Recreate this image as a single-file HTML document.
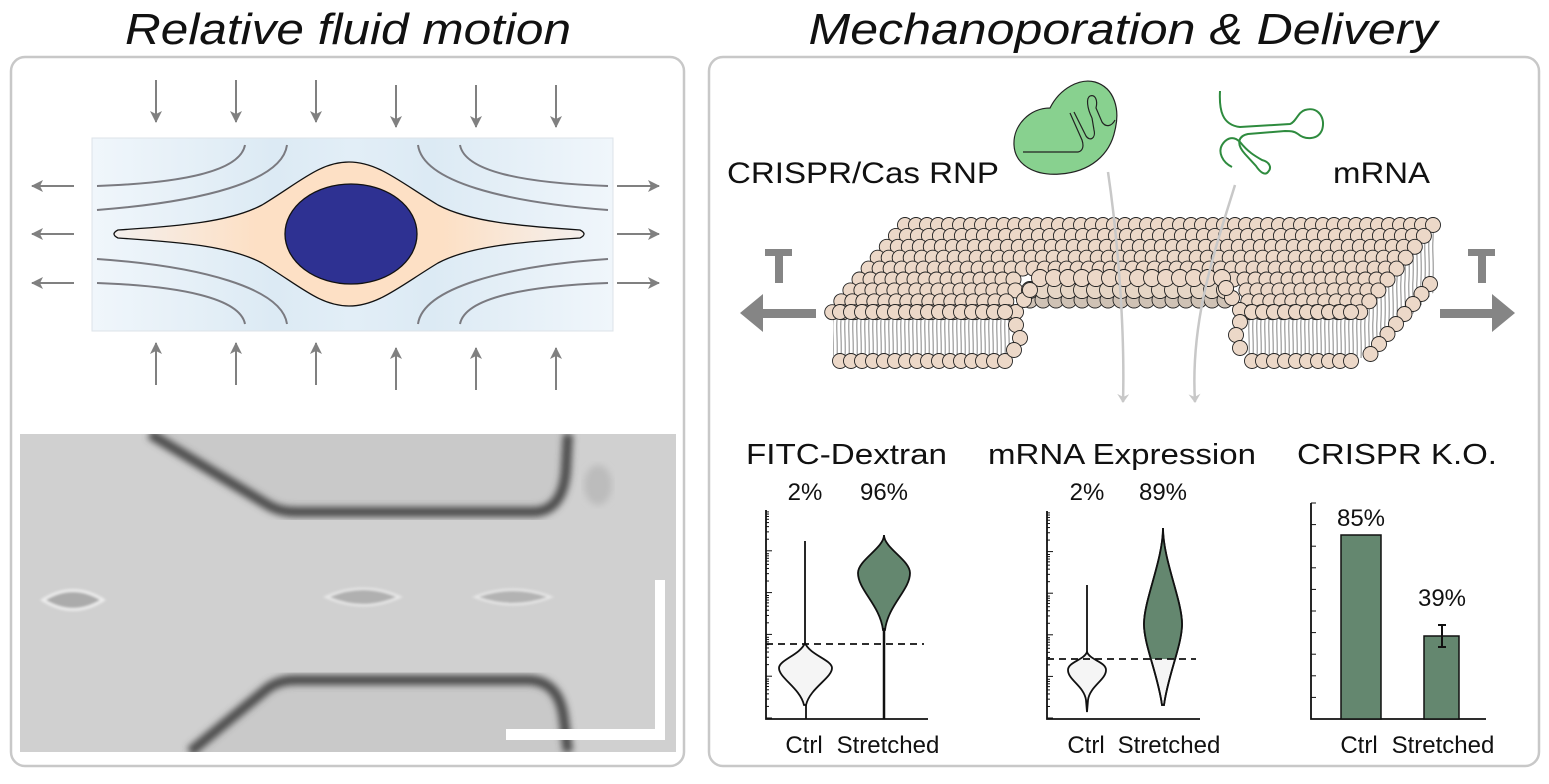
<!DOCTYPE html>
<html><head><meta charset="utf-8">
<style>
html,body{margin:0;padding:0;background:#fff;}
svg{display:block;}
text{font-family:"Liberation Sans",Arial,sans-serif;fill:#111;}
</style></head>
<body>
<svg id="s" width="1549" height="784" viewBox="0 0 1549 784" xmlns="http://www.w3.org/2000/svg">
<defs>
  <linearGradient id="bg" x1="0" x2="1" y1="0" y2="0">
    <stop offset="0" stop-color="#f0f6fb"/>
    <stop offset="0.35" stop-color="#dceaf4"/>
    <stop offset="0.5" stop-color="#e2eef7"/>
    <stop offset="0.65" stop-color="#dceaf4"/>
    <stop offset="1" stop-color="#f0f6fb"/>
  </linearGradient>
  <linearGradient id="cell" x1="0" x2="1" y1="0" y2="0">
    <stop offset="0" stop-color="#f4efec"/>
    <stop offset="0.3" stop-color="#fde0c5"/>
    <stop offset="0.7" stop-color="#fde0c5"/>
    <stop offset="1" stop-color="#f4efec"/>
  </linearGradient>
  <filter id="blur"><feGaussianBlur stdDeviation="3.5"/></filter>
  <filter id="blur2"><feGaussianBlur stdDeviation="1.2"/></filter>
  <pattern id="tails" width="4" height="40" patternUnits="userSpaceOnUse">
    <rect width="4" height="40" fill="#fff"/>
    <path d="M1,0 C0.5,10 1.5,20 1,40" stroke="#333" stroke-width="0.6" fill="none"/>
  </pattern>
  <marker id="ah" markerWidth="12" markerHeight="12" refX="11" refY="6" orient="auto" markerUnits="userSpaceOnUse">
    <path d="M0,0 L12,6 L0,12 L3,6 Z" fill="#808080"/>
  </marker>
  <marker id="ahl" markerWidth="10" markerHeight="12" refX="8" refY="6" orient="auto" markerUnits="userSpaceOnUse">
    <path d="M0,0 L9,6 L0,12 L3,6 Z" fill="#c8c8c8"/>
  </marker>
</defs>

<text x="348" y="44" font-size="44" font-style="italic" text-anchor="middle" textLength="446" lengthAdjust="spacingAndGlyphs">Relative fluid motion</text>
<text x="1123" y="44" font-size="44" font-style="italic" text-anchor="middle" textLength="629" lengthAdjust="spacingAndGlyphs">Mechanoporation &amp; Delivery</text>

<rect x="11" y="57" width="673" height="709" rx="14" fill="none" stroke="#c8c8c8" stroke-width="2.5"/>
<rect x="709" y="57" width="830" height="709" rx="14" fill="none" stroke="#c8c8c8" stroke-width="2.5"/>

<rect x="92" y="138" width="521" height="193" fill="url(#bg)" stroke="#dde3e8" stroke-width="1"/>
<g stroke="#7a7a80" stroke-width="2" fill="none">
  <path d="M97,186 C180,183 240,172 245,145"/>
  <path d="M97,210 C200,202 282,182 287,145"/>
  <path d="M97,259 C200,266 282,288 287,324"/>
  <path d="M97,283 C180,286 240,298 245,324"/>
  <path d="M608,186 C525,183 465,172 460,145"/>
  <path d="M608,210 C505,202 423,182 418,145"/>
  <path d="M608,259 C505,266 423,288 418,324"/>
  <path d="M608,283 C525,286 465,298 460,324"/>
</g>
<path d="M118,230 C180,226 230,222 262,205 C300,182 320,162 349,162 C378,162 400,182 438,205 C470,222 520,226 580,230 Q588,234 580,238 C520,242 470,246 438,263 C400,286 378,306 349,306 C320,306 300,286 262,263 C230,246 180,242 118,238 Q110,234 118,230 Z" fill="url(#cell)" stroke="#111" stroke-width="1.3"/>
<ellipse cx="351" cy="234" rx="66" ry="50" fill="#2e3192" stroke="#111" stroke-width="1.3"/>
<g stroke="#808080" stroke-width="2" fill="none" marker-end="url(#ah)">
  <line x1="156" y1="80" x2="156" y2="122"/><line x1="236" y1="80" x2="236" y2="122"/><line x1="316" y1="80" x2="316" y2="122"/>
  <line x1="396" y1="85" x2="396" y2="127"/><line x1="476" y1="85" x2="476" y2="127"/><line x1="556" y1="85" x2="556" y2="127"/>
  <line x1="156" y1="385" x2="156" y2="343"/><line x1="236" y1="385" x2="236" y2="343"/><line x1="316" y1="385" x2="316" y2="343"/>
  <line x1="396" y1="390" x2="396" y2="348"/><line x1="476" y1="390" x2="476" y2="348"/><line x1="556" y1="390" x2="556" y2="348"/>
  <line x1="74" y1="186" x2="32" y2="186"/><line x1="74" y1="234" x2="32" y2="234"/><line x1="74" y1="283" x2="32" y2="283"/>
  <line x1="617" y1="186" x2="659" y2="186"/><line x1="617" y1="234" x2="659" y2="234"/><line x1="617" y1="283" x2="659" y2="283"/>
</g>

<svg x="20" y="434" width="656" height="318" viewBox="20 434 656 318" overflow="hidden">
  <rect x="20" y="434" width="656" height="318" fill="#d0d0d0"/>
  <path d="M150,434 L270,505 Q280,512 295,512 L535,512 Q565,510 568,470 L570,434 Z" fill="#c9c9c9"/>
  <path d="M150,434 L268,505 Q280,512 295,512 L535,512 Q563,510 566,470 L568,434" fill="none" stroke="#4a4a4a" stroke-width="10" filter="url(#blur)"/>
  <path d="M190,752 L268,688 Q280,680 295,680 L530,680 Q562,682 566,720 L570,752 Z" fill="#c9c9c9"/>
  <path d="M190,752 L268,688 Q280,680 295,680 L530,680 Q560,682 564,720 L568,752" fill="none" stroke="#4a4a4a" stroke-width="10" filter="url(#blur)"/>
  <ellipse cx="598" cy="485" rx="14" ry="20" fill="#bcbcbc" filter="url(#blur)"/>
  <g filter="url(#blur2)">
    <path d="M40,600 Q73,578 106,600 Q73,622 40,600 Z" fill="#ececec"/>
    <path d="M46,600 Q73,584 100,600 Q73,616 46,600 Z" fill="#ababab"/>
    <path d="M323,597 Q363,578 403,597 Q363,616 323,597 Z" fill="#e6e6e6"/>
    <path d="M330,597 Q363,583 396,597 Q363,611 330,597 Z" fill="#b0b0b0"/>
    <path d="M472,597 Q513,580 554,597 Q513,614 472,597 Z" fill="#e6e6e6"/>
    <path d="M479,597 Q513,585 547,597 Q513,609 479,597 Z" fill="#b3b3b3"/>
  </g>
  <rect x="655" y="580" width="10" height="160" fill="#fff"/>
  <rect x="506" y="729" width="159" height="11" fill="#fff"/>
</svg>

<path d="M1050,108 C1060,88 1080,78 1095,82 C1115,88 1120,110 1115,130 C1110,155 1090,172 1060,174 C1035,176 1015,165 1014,145 C1013,125 1030,108 1050,108 Z" fill="#88d18f" stroke="#222" stroke-width="1.2"/>
<g fill="none" stroke="#222" stroke-width="1.2">
  <path d="M1023,152 L1078,152 C1083,151 1084,146 1082,140 L1070,113"/>
  <path d="M1074,112 L1086,136 C1090,142 1096,138 1094,130 L1092,118"/>
  <path d="M1092,118 C1087,108 1086,98 1090,96 C1095,94 1098,100 1096,108 L1102,122 C1106,128 1112,126 1115,120"/>
</g>
<g fill="none" stroke="#2e8b3e" stroke-width="2">
  <path d="M1220,91 C1219,110 1222,125 1240,127 L1290,124 C1296,122 1298,112 1305,110 C1318,106 1326,118 1322,130 C1318,140 1305,140 1298,134 C1294,131 1290,131 1285,131 L1248,134 C1238,136 1236,144 1245,154 L1256,166 C1260,172 1265,176 1268,172 C1272,168 1270,162 1262,160 C1255,156 1248,152 1240,142 C1232,134 1225,140 1222,145 C1218,152 1222,162 1232,167"/>
</g>
<text x="727" y="183" font-size="30" textLength="272" lengthAdjust="spacingAndGlyphs">CRISPR/Cas RNP</text>
<text x="1333" y="183" font-size="30" textLength="97" lengthAdjust="spacingAndGlyphs">mRNA</text>

<g fill="#858585">
  <rect x="765" y="249" width="27" height="7"/><rect x="775" y="249" width="8" height="34"/>
  <rect x="1468" y="249" width="27" height="7"/><rect x="1478" y="249" width="8" height="34"/>
  <path d="M740,313 L763,294 L763,309 L816,309 L816,318 L763,318 L763,332 Z"/>
  <path d="M1515,313 L1492,294 L1492,309 L1440,309 L1440,318 L1492,318 L1492,332 Z"/>
</g>

<g id="mem"></g>

<g fill="none" stroke="#c8c8c8" stroke-width="2.5">
  <path d="M1108,172 C1118,240 1125,330 1123,402" marker-end="url(#ahl)"/>
  <path d="M1235,185 C1215,250 1190,320 1195,402" marker-end="url(#ahl)"/>
</g>

<text x="746" y="464" font-size="29" textLength="201" lengthAdjust="spacingAndGlyphs">FITC-Dextran</text>
<text x="988" y="464" font-size="29" textLength="268" lengthAdjust="spacingAndGlyphs">mRNA Expression</text>
<text x="1297" y="464" font-size="29" textLength="200" lengthAdjust="spacingAndGlyphs">CRISPR K.O.</text>

<g font-size="24" text-anchor="middle">
  <text x="805" y="500">2%</text><text x="884" y="500">96%</text>
  <text x="1087" y="500">2%</text><text x="1163" y="500">89%</text>
  <text x="1361" y="526">85%</text><text x="1442" y="606">39%</text>
  <text x="804" y="753">Ctrl</text><text x="888" y="753">Stretched</text>
  <text x="1086" y="753">Ctrl</text><text x="1169" y="753">Stretched</text>
  <text x="1359" y="753">Ctrl</text><text x="1443" y="753">Stretched</text>
</g>

<g stroke="#111" stroke-width="1.8" fill="none">
  <path d="M766,510 L766,719 L928,719"/>
  <path d="M805,541 L805,643 M806,705 L806,719"/>
</g>
<path d="M805,643 C810,655 832,660 832,668 C832,678 810,688 806,705 L804,705 C800,688 779,678 779,668 C779,660 800,655 805,643 Z" fill="#f5f5f5" stroke="#111" stroke-width="1.8"/>
<path d="M884,535 C884,548 910,560 910,573 C910,590 888,605 885,630 L883,630 C880,605 858,590 858,573 C858,560 884,548 884,535 Z" fill="#64876f" stroke="#111" stroke-width="1.8"/>
<line x1="884" y1="628" x2="884" y2="719" stroke="#111" stroke-width="2.5"/>
<line x1="766" y1="644" x2="924" y2="644" stroke="#111" stroke-width="1.8" stroke-dasharray="7,5"/>

<path d="M1047,511 L1047,719 L1200,719" stroke="#111" stroke-width="1.8" fill="none"/>
<line x1="1087" y1="585" x2="1087" y2="655" stroke="#111" stroke-width="1.8"/>
<path d="M1087,652 C1090,660 1106,662 1106,670 C1106,680 1090,686 1088,700 L1087,712 L1086,700 C1084,686 1068,680 1068,670 C1068,662 1084,660 1087,652 Z" fill="#f5f5f5" stroke="#111" stroke-width="1.8"/>
<path d="M1163,528 C1163,560 1182,600 1182,624 C1182,645 1168,675 1164,705 L1162,705 C1158,675 1144,645 1144,624 C1144,600 1163,560 1163,528 Z" fill="#f5f5f5" stroke="#111" stroke-width="1.8"/>
<path d="M1163,528 C1163,560 1182,600 1182,624 C1182,638 1178,648 1176,659 L1150,659 C1148,648 1144,638 1144,624 C1144,600 1163,560 1163,528 Z" fill="#64876f" stroke="none"/>
<path d="M1163,528 C1163,560 1182,600 1182,624 C1182,645 1168,675 1164,705 L1162,705 C1158,675 1144,645 1144,624 C1144,600 1163,560 1163,528 Z" fill="none" stroke="#111" stroke-width="1.8"/>
<line x1="1047" y1="659" x2="1196" y2="659" stroke="#111" stroke-width="1.8" stroke-dasharray="7,5"/>

<path d="M1311,503 L1311,719 L1486,719" stroke="#111" stroke-width="1.8" fill="none"/>
<rect x="1341" y="535" width="40" height="184" fill="#64876f" stroke="#111" stroke-width="1.5"/>
<rect x="1424" y="636" width="35" height="83" fill="#64876f" stroke="#111" stroke-width="1.5"/>
<path d="M1442,625 L1442,647 M1438,625 L1446,625 M1438,647 L1446,647" stroke="#111" stroke-width="2"/>
<g id="ticks" stroke="#111" stroke-width="1"></g>

<script>
(function(){
var NS="http://www.w3.org/2000/svg";
var mem=document.getElementById("mem");
function el(n,a,p){var e=document.createElementNS(NS,n);for(var k in a)e.setAttribute(k,a[k]);(p||mem).appendChild(e);return e;}
function c(x,y,f,r){el("circle",{cx:x,cy:y,r:r||7.5,fill:f||"#ecd8c8",stroke:"#222","stroke-width":0.9});}
el("rect",{x:833,y:316,width:178,height:40,fill:"url(#tails)"});
el("rect",{x:1248,y:316,width:110,height:40,fill:"url(#tails)"});
el("path",{d:"M1358,312 L1436,230 L1436,290 L1370,358 L1358,358 Z",fill:"url(#tails)"});
for(var x=840;x<=1008;x+=11)c(x,361);
for(var x=1252;x<=1356;x+=11)c(x,361);
for(var i=0;i<=7;i++)c(1430-i*8.5,284+i*10);
for(var k=0;k<=8;k++){
  var y=225+k*10.9, x0=905-k*9.1, x1=1435-k*9.2;
  for(var x=x0;x<=x1;x+=11){
    if(k>=5 && x>1012+(8-k)*4 && x<1245-(8-k)*4) continue;
    c(x,y);
  }
}
for(var x=1030;x<=1235;x+=13){c(x,300,"#cfc2b5",8);}
for(var x=1030;x<=1235;x+=13){c(x,290,"#e6d6c6",8.5);}
for(var x=1040;x<=1230;x+=14){c(x,278,"#ecd8c8",8.5);}
[[1016,312],[1024,300],[1030,290],[1016,325],[1020,338],[1014,350]].forEach(function(p){c(p[0],p[1]);});
[[1240,310],[1232,298],[1226,288],[1240,322],[1236,335],[1240,348]].forEach(function(p){c(p[0],p[1]);});
for(var x=840;x<=1008;x+=11)c(x,312);
for(var x=1252;x<=1356;x+=11)c(x,312);
var t=document.getElementById("ticks");
function tk(x,y,l){el("line",{x1:x,y1:y,x2:x+l,y2:y},t);}
[[766,510,719],[1047,511,719]].forEach(function(a){
  var x=a[0],top=a[1],bot=a[2];var dec=(bot-top)/5;
  for(var d=0;d<5;d++){var base=bot-d*dec;tk(x,base-1,6);
    for(var m=2;m<10;m++){tk(x,base-dec*Math.log10(m),3);}}
});
for(var y=503;y<719;y+=21.6)tk(1311,y,5);
})();
</script>
</svg>
</body></html>
